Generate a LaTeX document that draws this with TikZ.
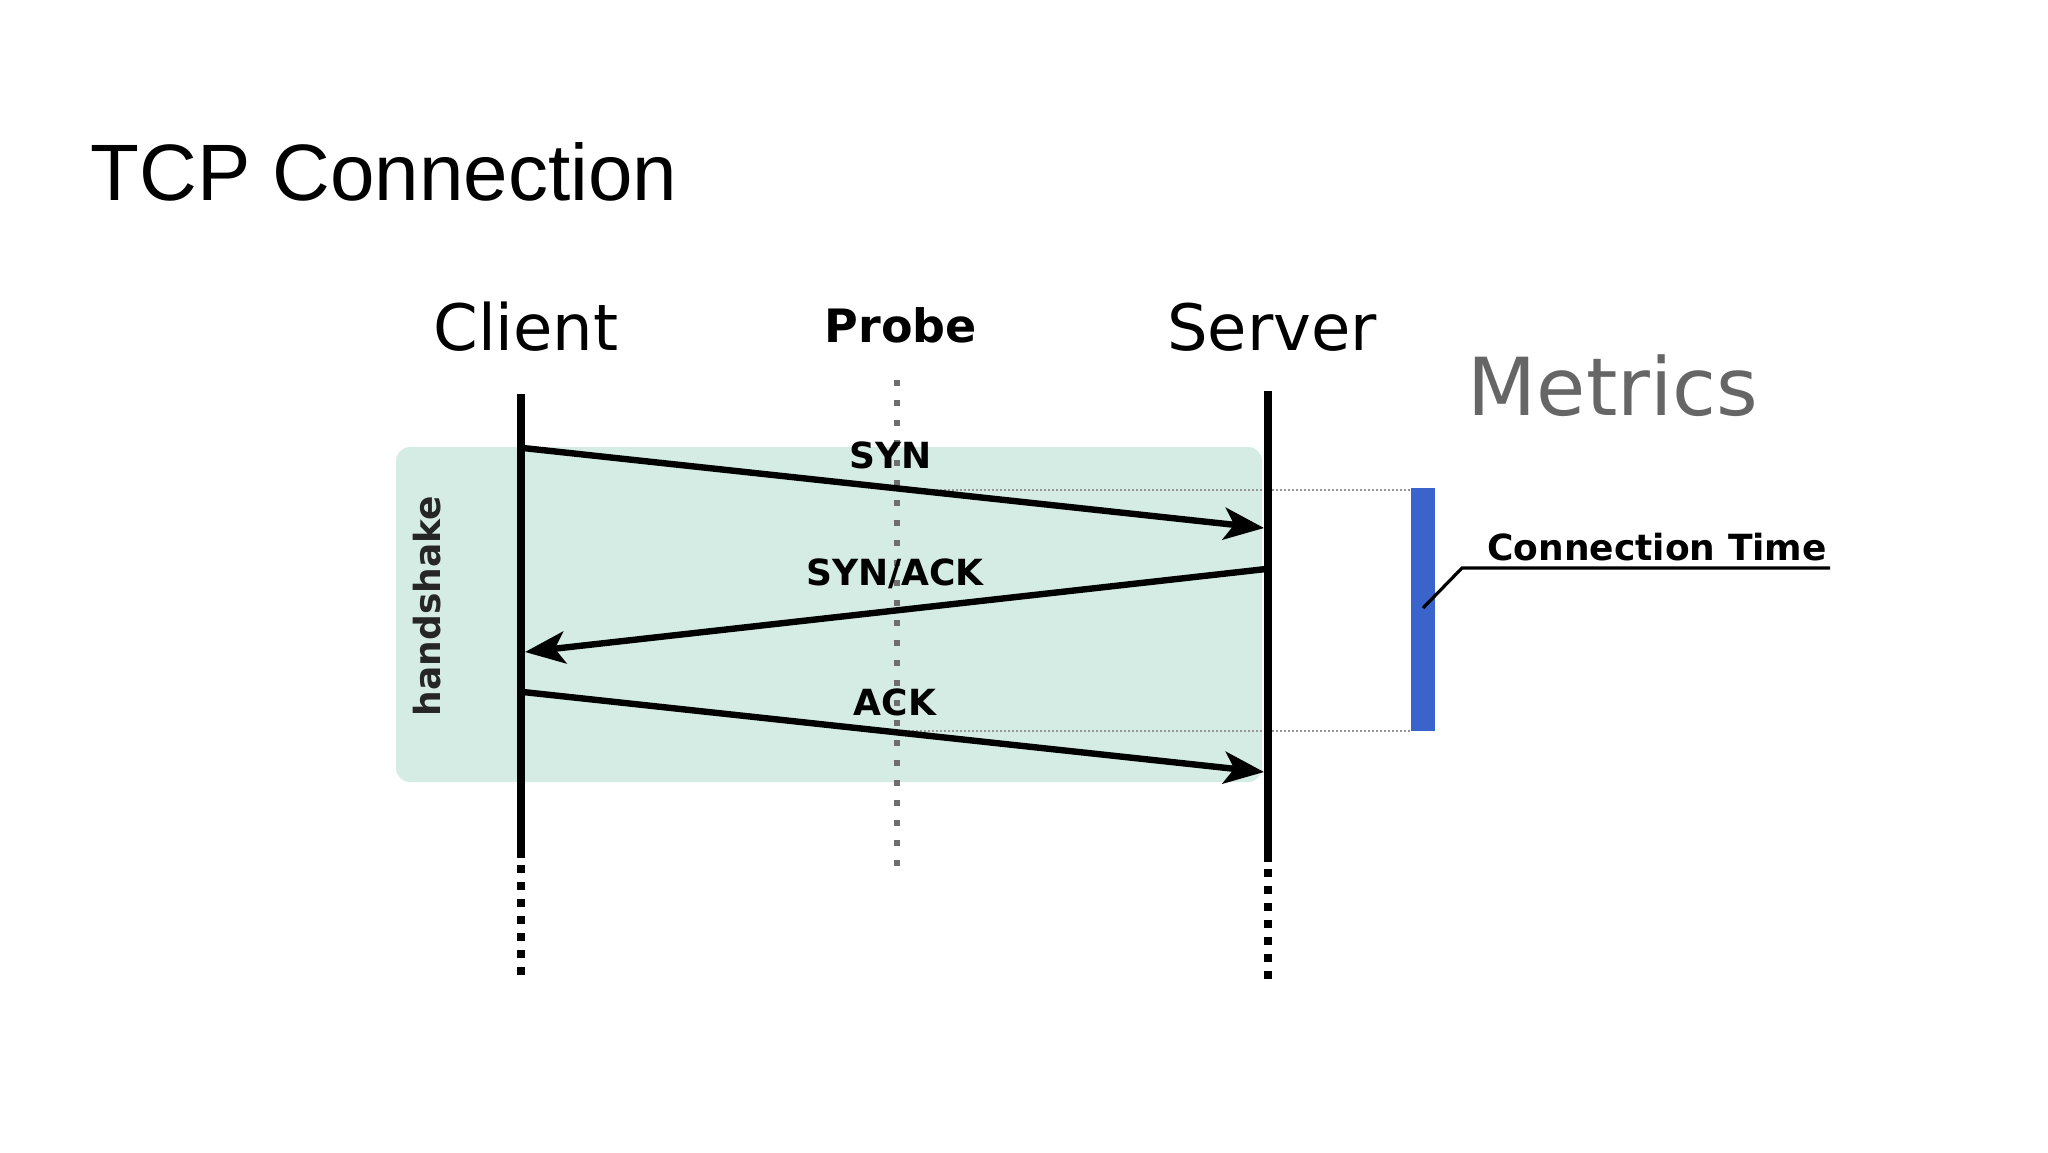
\documentclass[tikz,border=0pt]{standalone}
\usepackage{fontspec}
\setmainfont{DejaVu Sans}
\newfontfamily\titlefont{Liberation Sans}
\usetikzlibrary{arrows.meta}
\definecolor{mint}{RGB}{212,236,227}
\definecolor{barblue}{RGB}{58,99,204}
\definecolor{metricgray}{RGB}{102,102,102}
\definecolor{probegray}{RGB}{110,110,110}
\definecolor{guidegray}{RGB}{150,150,150}
\begin{document}
\begin{tikzpicture}[x=0.5pt,y=-0.5pt,
  lifeline/.style={line width=4pt,black},
  lifedots/.style={line width=4pt,black,dash pattern=on 4pt off 4.5pt},
  probeline/.style={line width=3pt,probegray,dash pattern=on 3pt off 7pt},
  guide/.style={line width=1pt,guidegray,dash pattern=on 1pt off 1pt},
  msg/.style={line width=3.2pt,black,-{Stealth[length=20pt,width=16pt,inset=5pt]}},
  msglabel/.style={anchor=base,inner sep=0pt,font=\fontsize{18}{20}\selectfont\bfseries},
  actor/.style={anchor=base,inner sep=0pt,font=\fontsize{32}{36}\selectfont}]
\useasboundingbox[fill=white] (0,0) rectangle (2048,1152);

% title
\node[anchor=base west,inner sep=0pt,font=\titlefont\fontsize{40}{44}\selectfont] (title) at (90,200) {TCP Connection};

% handshake box
\fill[mint,rounded corners=7pt] (396,447) rectangle (1262,782);
\node[rotate=90,inner sep=0pt,font=\fontsize{18}{20}\selectfont\bfseries,text=black!85] (hs) at (427,606) {handshake};

% actors
\node[actor] (client) at (526,350) {Client};
\node[actor] (server) at (1272,350) {Server};
\node[anchor=base,inner sep=0pt,font=\fontsize{23}{26}\selectfont\bfseries] (probe) at (901,342) {Probe};
\node[anchor=base,inner sep=0pt,font=\fontsize{40}{44}\selectfont,text=metricgray] (metrics) at (1613,415) {Metrics};

% lifeline coordinates
\coordinate (cTop) at (521,394);
\coordinate (cEnd) at (521,858);
\coordinate (cDot) at (521,978);
\coordinate (sTop) at (1268,391);
\coordinate (sEnd) at (1268,862);
\coordinate (sDot) at (1268,981);
\coordinate (pTop) at (897,380);
\coordinate (pEnd) at (897,870);

% probe line
\draw[probeline] (pTop) -- (pEnd);

% guides
\coordinate (g1a) at (900,490);
\coordinate (g1b) at (1411,490);
\coordinate (g2a) at (900,731);
\coordinate (g2b) at (1411,731);
\draw[guide] (g1a) -- (g1b);
\draw[guide] (g2a) -- (g2b);

% lifelines
\draw[lifeline] (cTop) -- (cEnd);
\draw[lifedots] (cEnd) ++(0,7) -- (cDot);
\draw[lifeline] (sTop) -- (sEnd);
\draw[lifedots] (sEnd) ++(0,7) -- (sDot);

% messages
\coordinate (m1a) at (523,448);
\coordinate (m1b) at (1264,528);
\coordinate (m2a) at (1266,569);
\coordinate (m2b) at (525,652);
\coordinate (m3a) at (523,692);
\coordinate (m3b) at (1264,772);
\draw[msg] (m1a) -- (m1b);
\draw[msg] (m2a) -- (m2b);
\draw[msg] (m3a) -- (m3b);
\node[msglabel] (syn) at (891,468) {SYN};
\node[msglabel] (synack) at (895,585) {SYN/ACK};
\node[msglabel] (ack) at (895,715) {ACK};

% metric bar
\node[fill=barblue,inner sep=0pt,minimum width=12pt,minimum height=121.5pt,anchor=north west] (bar) at (1411,488) {};
\node[anchor=base west,inner sep=0pt,font=\fontsize{18}{20}\selectfont\bfseries] (ctime) at (1487,560) {Connection Time};
\coordinate (lead0) at (1423,608);
\coordinate (lead1) at (1462,568);
\coordinate (lead2) at (1830,568);
\draw[line width=1.6pt,black] (lead0) -- (lead1) -- (lead2);
\end{tikzpicture}
\end{document}
